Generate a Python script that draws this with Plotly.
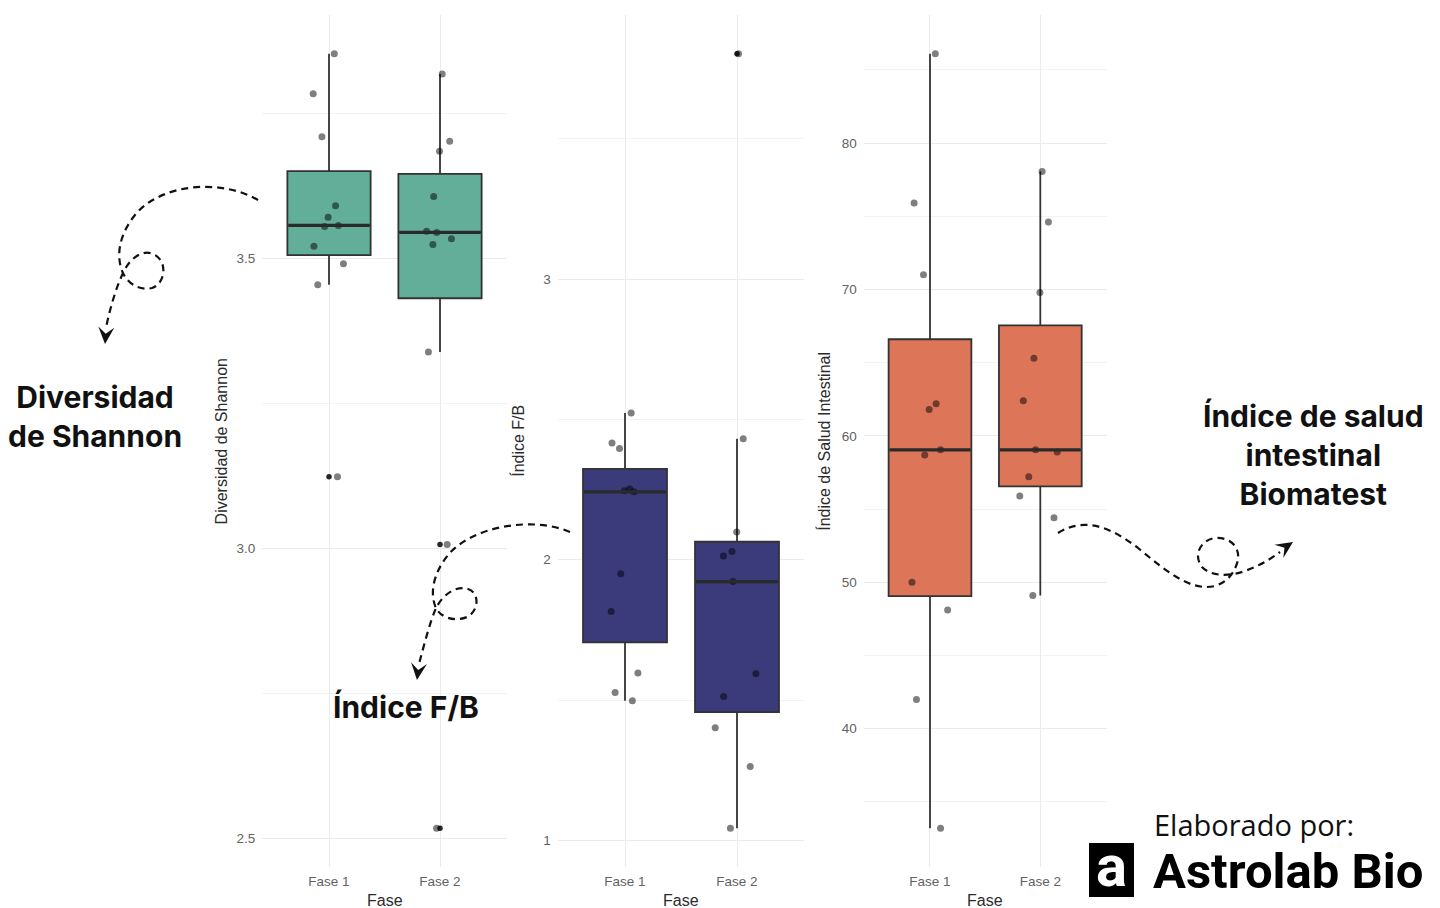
import numpy as np
import plotly.graph_objects as go

W, H = 1440, 908

# ---------------- data ----------------
categories = ["Fase 1", "Fase 2"]

shannon_fase1 = [3.853, 3.784, 3.710, 3.591, 3.571, 3.557, 3.555, 3.521, 3.491, 3.455, 3.124]
shannon_fase2 = [3.818, 3.702, 3.685, 3.607, 3.547, 3.545, 3.534, 3.524, 3.339, 3.007, 2.518]

fb_fase1 = [2.523, 2.416, 2.396, 2.252, 2.246, 2.242, 1.950, 1.815, 1.596, 1.527, 1.497]
fb_fase2 = [3.803, 2.431, 2.099, 2.029, 2.013, 1.922, 1.594, 1.513, 1.401, 1.263, 1.043]

salud_fase1 = [86.1, 75.9, 71.0, 62.2, 61.8, 59.05, 58.7, 50.0, 48.1, 42.0, 33.2]
salud_fase2 = [78.06, 74.6, 69.8, 65.3, 62.4, 58.9, 59.05, 57.2, 55.9, 54.4, 49.1]

y_titles = ["Diversidad de Shannon", "Índice F/B", "Índice de Salud Intestinal"]
x_title = "Fase"
y_ticks = [[2.5, 3.0, 3.5], [1, 2, 3], [40, 50, 60, 70, 80]]
y_minor = [0.25, 0.5, 5]
y_fmt = [".1f", "d", "d"]
fills = ["#62AE99", "#3B3A7A", "#DD7658"]

labels = ["Diversidad<br>de Shannon", "Índice F/B", "Índice de salud<br>intestinal<br>Biomatest"]

# ---------------- layout helpers (pixel -> paper) ----------------
def px(x):
    return x / W

def py(y):
    return 1 - y / H

panels_px = [(262.4, 506.6), (557.8, 804.2), (863.8, 1106.5)]
top_px, bot_px = 15, 867
BOX_WIDTH = 0.75

fig = go.Figure()

datasets = [(shannon_fase1, shannon_fase2), (fb_fase1, fb_fase2), (salud_fase1, salud_fase2)]

TICK_COLOR = "#626262"
TITLE_COLOR = "#2b2b2b"
GRID = "#ebebeb"
MINOR_GRID = "#f3f3f3"

annotations = []
shapes = []
for i, ((v1, v2), fill) in enumerate(zip(datasets, fills)):
    k = "" if i == 0 else str(i + 1)
    xs = [categories[0]] * len(v1) + [categories[1]] * len(v2)
    ys = list(v1) + list(v2)
    fig.add_trace(go.Box(
        x=xs, y=ys, xaxis="x" + k, yaxis="y" + k,
        boxpoints="all", jitter=0.55, pointpos=0,
        fillcolor=fill, line=dict(color="#333333", width=1.8),
        marker=dict(color="rgba(0,0,0,0.5)", size=7),
        whiskerwidth=0, quartilemethod="inclusive", hoverinfo="skip",
    ))
    # ggplot-style outliers (black, centred) and thick median, computed from the data
    ox, oy = [], []
    for ci, (cat, v) in enumerate(zip(categories, (v1, v2))):
        arr = np.array(v)
        q1, med, q3 = np.percentile(arr, [25, 50, 75])
        iqr = q3 - q1
        for val in arr:
            if val < q1 - 1.5 * iqr or val > q3 + 1.5 * iqr:
                ox.append(cat)
                oy.append(val)
        shapes.append(dict(type="line", xref="x" + k, yref="y" + k,
                           x0=ci - BOX_WIDTH / 2 + 0.01, x1=ci + BOX_WIDTH / 2 - 0.01,
                           y0=med, y1=med, line=dict(color="#2a2a2a", width=3.2)))
    fig.add_trace(go.Scatter(
        x=ox, y=oy, xaxis="x" + k, yaxis="y" + k, mode="markers",
        marker=dict(color="rgba(0,0,0,0.85)", size=5.5), hoverinfo="skip",
    ))

    allv = np.array(ys)
    lo, hi = allv.min(), allv.max()
    span = hi - lo
    x0, x1 = panels_px[i]
    fig.update_layout(**{
        "xaxis" + k: dict(
            domain=[px(x0), px(x1)], range=[-0.6, 1.6], type="category",
            categoryorder="array", categoryarray=categories,
            showgrid=True, gridcolor=GRID, gridwidth=1.3, zeroline=False,
            showline=False, ticks="", tickfont=dict(size=13.5, color=TICK_COLOR),
            ticklabelstandoff=4, anchor="y" + k,
        ),
        "yaxis" + k: dict(
            domain=[py(bot_px), py(top_px)], range=[lo - 0.05 * span, hi + 0.05 * span],
            tickvals=y_ticks[i], tickformat=y_fmt[i],
            showgrid=True, gridcolor=GRID, gridwidth=1.3, zeroline=False,
            showline=False, ticks="", tickfont=dict(size=13.5, color=TICK_COLOR),
            ticklabelstandoff=6, anchor="x" + k,
            minor=dict(dtick=y_minor[i], tick0=0, showgrid=True,
                       gridcolor=MINOR_GRID, gridwidth=0.9),
        ),
    })
    # axis titles
    annotations.append(dict(
        text=y_titles[i], xref="paper", yref="paper",
        x=px(x0 - 40), y=py((top_px + bot_px) / 2), textangle=-90,
        showarrow=False, font=dict(size=16, color=TITLE_COLOR),
        xanchor="center", yanchor="middle",
    ))
    annotations.append(dict(
        text=x_title, xref="paper", yref="paper",
        x=px((x0 + x1) / 2), y=py(900), showarrow=False,
        font=dict(size=16, color=TITLE_COLOR), xanchor="center", yanchor="middle",
    ))

# big bold labels
label_pos = [(95, 417), (406, 707), (1313, 455)]
for txt, (lx, ly) in zip(labels, label_pos):
    annotations.append(dict(
        text=txt, xref="paper", yref="paper", x=px(lx), y=py(ly),
        showarrow=False, align="center", xanchor="center", yanchor="middle",
        font=dict(family="Inter", size=30, color="#111111", weight=700),
    ))

# signature
annotations.append(dict(
    text="Elaborado por:", xref="paper", yref="paper", x=px(1254), y=py(824),
    showarrow=False, xanchor="center", yanchor="middle",
    font=dict(family="Open Sans", size=29, color="#111111"),
))
annotations.append(dict(
    text="Astrolab Bio", xref="paper", yref="paper", x=px(1151), y=py(871),
    showarrow=False, xanchor="left", yanchor="middle",
    font=dict(family="Roboto", size=49, color="#000000", weight=700),
))
annotations.append(dict(
    text="a", xref="paper", yref="paper", x=px(1111), y=py(866),
    showarrow=False, xanchor="center", yanchor="middle",
    font=dict(family="Roboto", size=58, color="#ffffff", weight=700),
))

# ---------------- decorative dashed arrows ----------------
def path(cmds):
    out = []
    for c, pts in cmds:
        out.append(c + " " + " ".join(f"{px(x):.5f},{py(y):.5f}" for x, y in pts))
    return " ".join(out)

def head(tip, frm, L=17, w=8):
    tx, ty = tip
    fx, fy = frm
    dx, dy = tx - fx, ty - fy
    n = (dx * dx + dy * dy) ** 0.5
    ux, uy = dx / n, dy / n
    bx, by = tx - L * ux, ty - L * uy
    nx, ny = -uy, ux
    left = (bx + w * nx, by + w * ny)
    right = (bx - w * nx, by - w * ny)
    notch = (tx - 0.6 * L * ux, ty - 0.6 * L * uy)
    return path([("M", [tip]), ("L", [left]), ("L", [notch]), ("L", [right])]) + " Z"

arrow1 = [("M", [(258, 200)]),
          ("C", [(220, 178), (160, 184), (135, 215)]),
          ("C", [(118, 236), (116, 258), (123, 273)]),
          ("C", [(128, 284), (140, 291), (152, 288)]),
          ("C", [(165, 284), (168, 262), (155, 255)]),
          ("C", [(143, 248), (130, 258), (123, 273)]),
          ("C", [(116, 288), (110, 308), (106, 328)])]
arrow2 = [("M", [(570, 532)]),
          ("C", [(530, 515), (470, 528), (448, 555)]),
          ("C", [(432, 575), (430, 595), (436, 608)]),
          ("C", [(441, 618), (455, 622), (467, 617)]),
          ("C", [(479, 611), (480, 593), (468, 589)]),
          ("C", [(455, 585), (442, 596), (436, 608)]),
          ("C", [(430, 622), (424, 645), (419, 664)])]
arrow3 = [("M", [(1058, 533)]),
          ("C", [(1085, 516), (1112, 528), (1138, 548)]),
          ("C", [(1165, 570), (1190, 592), (1215, 586)]),
          ("C", [(1228, 582), (1235, 572), (1238, 560)]),
          ("C", [(1240, 545), (1228, 537), (1215, 538)]),
          ("C", [(1200, 540), (1193, 556), (1202, 567)]),
          ("C", [(1210, 576), (1228, 577), (1245, 571)]),
          ("C", [(1258, 566), (1268, 561), (1280, 552)])]

for a in (arrow1, arrow2, arrow3):
    shapes.append(dict(type="path", path=path(a), xref="paper", yref="paper",
                       line=dict(color="#111111", width=2.2, dash="7px,5px")))
for tip, frm in (((105, 344), (107, 318)), ((417, 680), (420, 655)), ((1293, 542), (1272, 556))):
    shapes.append(dict(type="path", path=head(tip, frm), xref="paper", yref="paper",
                       fillcolor="#111111", line=dict(width=0)))

# logo block
shapes.append(dict(type="rect", xref="paper", yref="paper",
                   x0=px(1089), x1=px(1134), y0=py(897), y1=py(843),
                   fillcolor="#000000", line=dict(width=0), layer="below"))

fig.update_layout(
    width=W, height=H, margin=dict(l=0, r=0, t=0, b=0, pad=0),
    paper_bgcolor="white", plot_bgcolor="white", showlegend=False,
    boxgap=0.25, boxgroupgap=0, boxmode="overlay",
    font=dict(family="Liberation Sans, Arial, sans-serif"),
    annotations=annotations, shapes=shapes,
)

fig.write_html(
    "out.html",
    config={"displayModeBar": False},
    post_script="document.body.style.margin='0';document.body.style.overflow='hidden';",
)
